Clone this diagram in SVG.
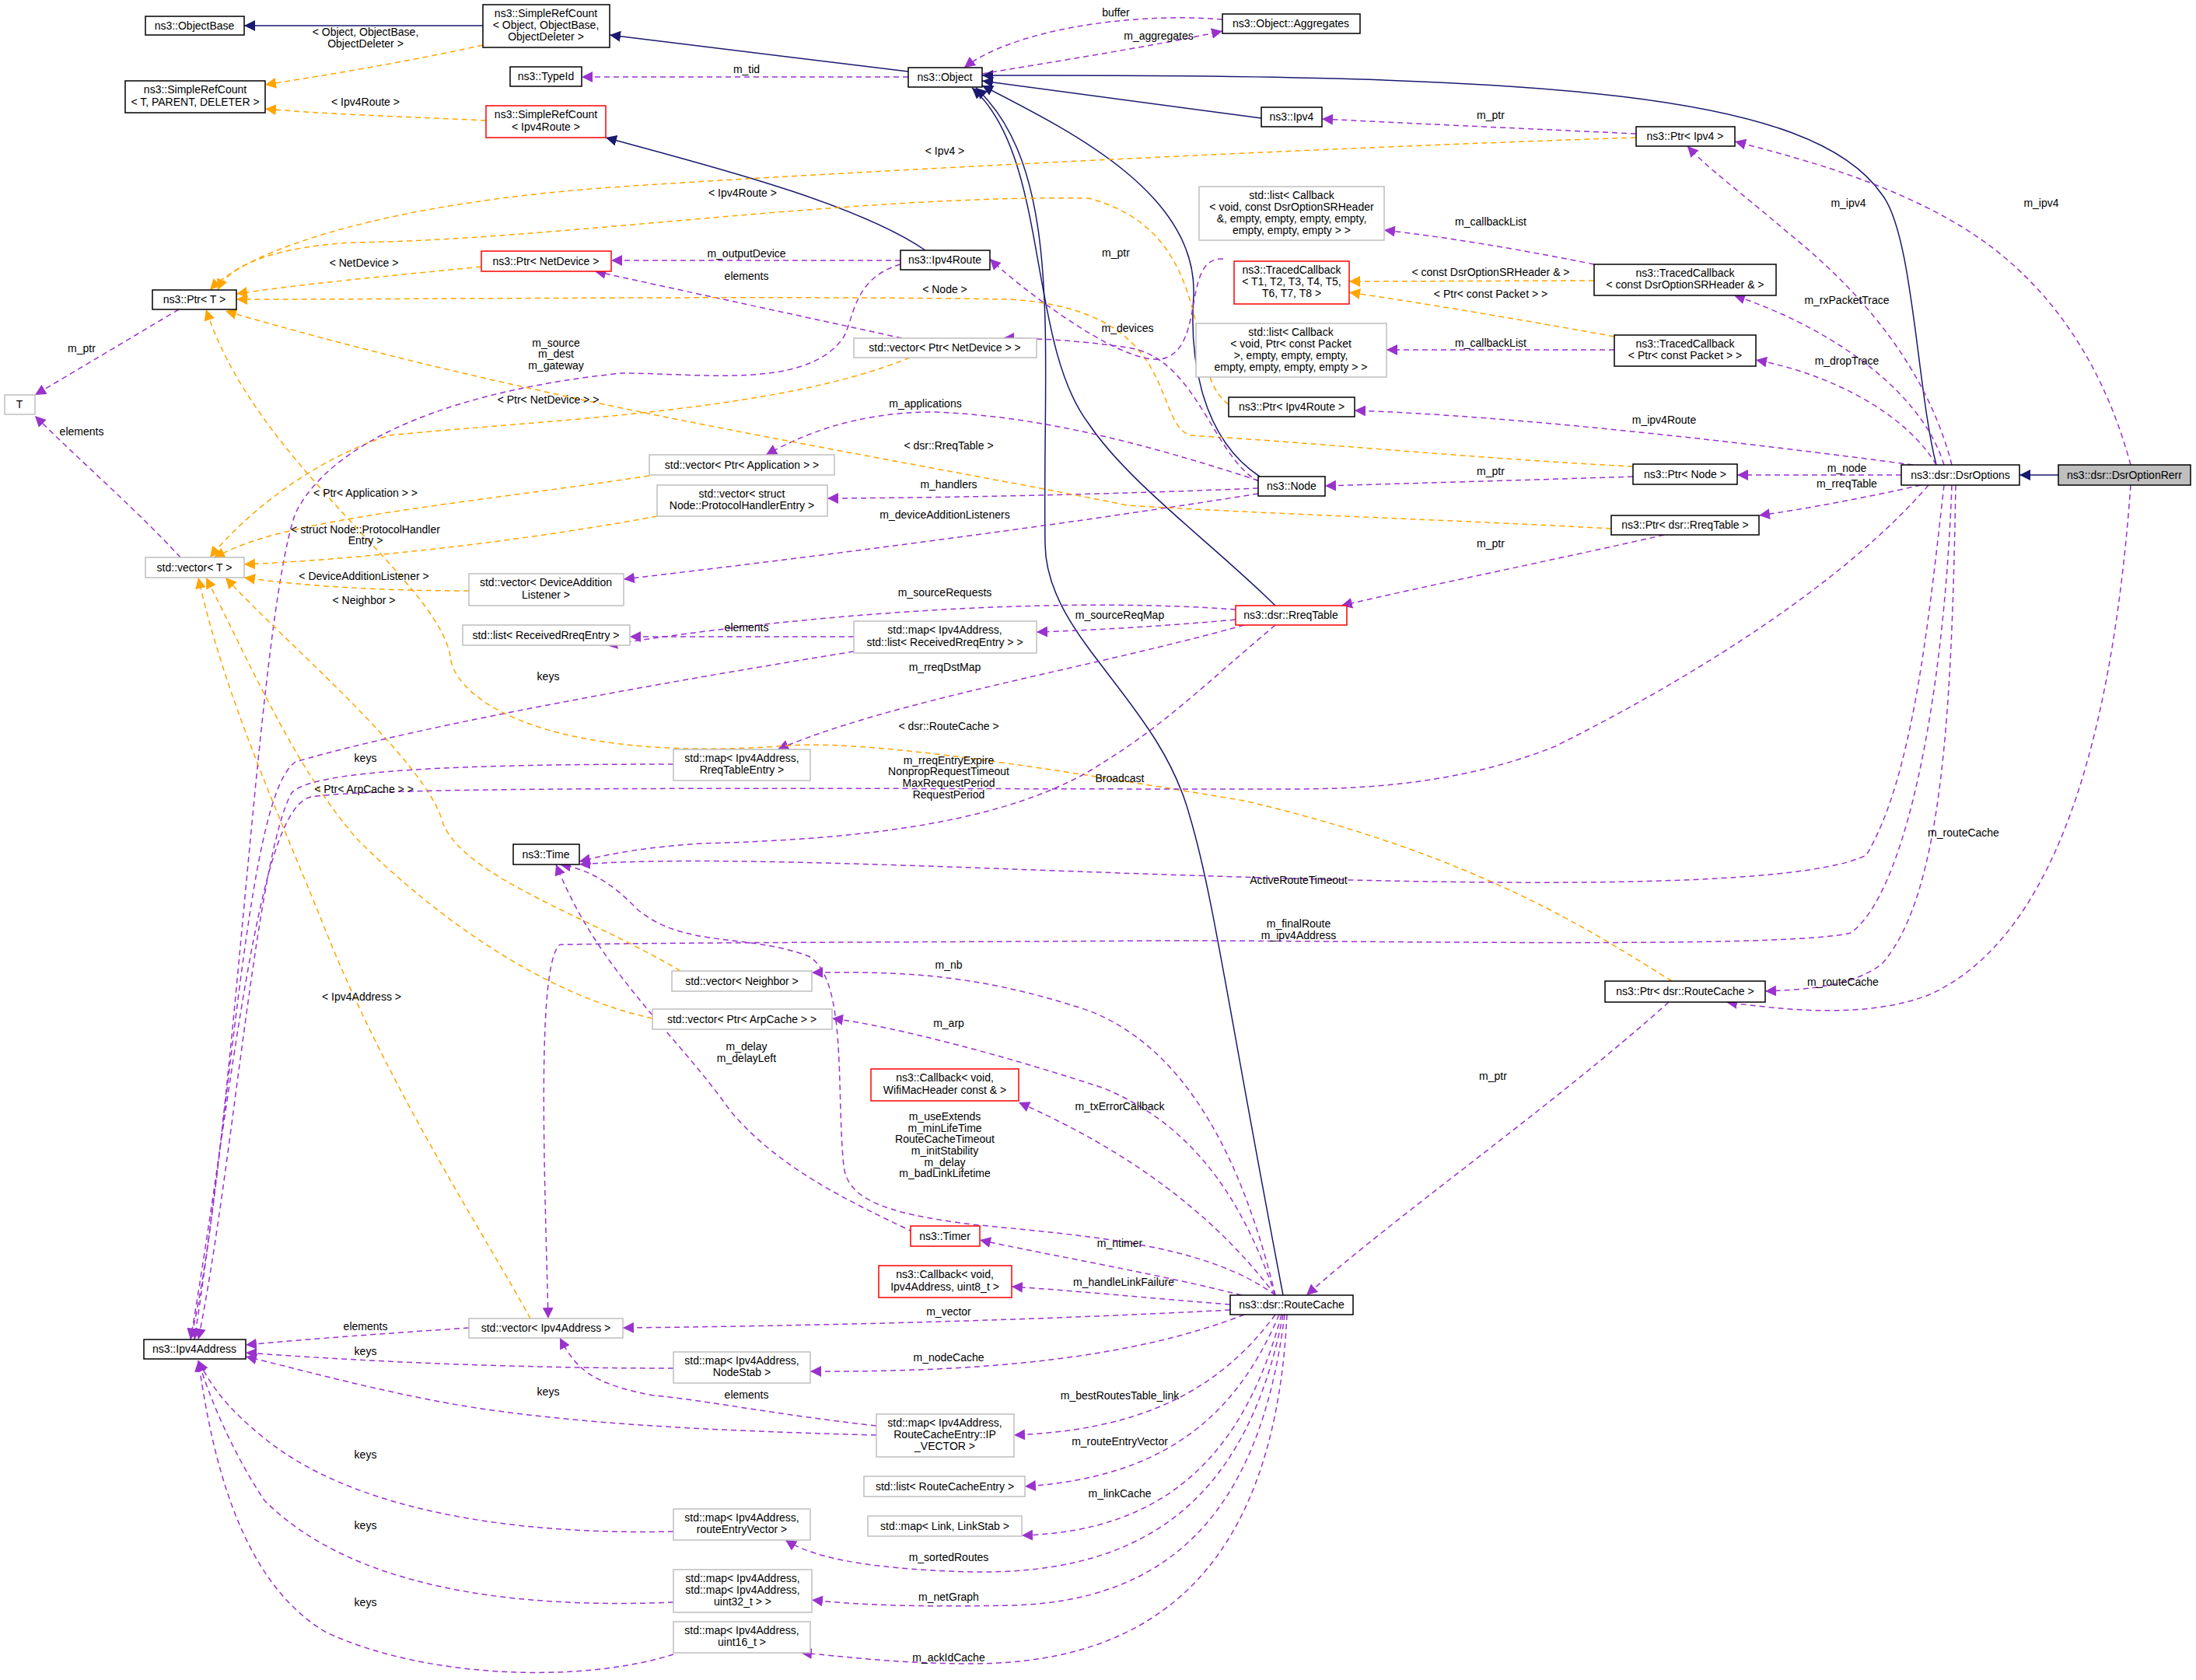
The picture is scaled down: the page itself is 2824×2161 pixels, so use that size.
<svg xmlns="http://www.w3.org/2000/svg" width="2824" height="2161" viewBox="0 0 2824 2161">
<style>
text{font-family:"Liberation Sans",Arial,sans-serif;font-size:14px;fill:#000}
.n text,.l text{text-anchor:middle}
.n rect{fill:#fff;stroke:#000;stroke-width:1.5}
.n.r rect{stroke:#f00}
.n.g rect{stroke:#bfbfbf}
.n.cur rect{fill:#bfbfbf}
.e path{fill:none;stroke-width:1.5}
.i{stroke:#191970;marker-end:url(#ai)}
.u{stroke:#9a32cd;stroke-dasharray:7,5;marker-end:url(#au)}
.t{stroke:#ffa500;stroke-dasharray:7,5;marker-end:url(#at)}
</style>
<defs>
<marker id="ai" viewBox="0 0 10 10" refX="10" refY="5" markerWidth="14" markerHeight="14" markerUnits="userSpaceOnUse" orient="auto"><path d="M0,0L10,5L0,10z" fill="#191970"/></marker>
<marker id="au" viewBox="0 0 10 10" refX="10" refY="5" markerWidth="14" markerHeight="14" markerUnits="userSpaceOnUse" orient="auto"><path d="M0,0L10,5L0,10z" fill="#9a32cd"/></marker>
<marker id="at" viewBox="0 0 10 10" refX="10" refY="5" markerWidth="14" markerHeight="14" markerUnits="userSpaceOnUse" orient="auto"><path d="M0,0L10,5L0,10z" fill="#ffa500"/></marker>
</defs>
<rect width="2824" height="2161" fill="#fff"/>
<g id="edges" class="e">
<path class="i" d="M621,33L314,33"/>
<path class="i" d="M1168,92L784,45"/>
<path class="i" d="M1190,322C1100,260 900,210 779,177"/>
<path class="i" d="M1622,152L1263,104"/>
<path class="i" d="M2490,598C2465,500 2460,300 2420,250C2330,120 2000,95 1263,97"/>
<path class="i" d="M1620,613C1540,560 1530,450 1535,380C1540,250 1380,170 1263,110"/>
<path class="i" d="M1640,779C1560,700 1450,620 1400,545C1320,440 1350,200 1250,113"/>
<path class="i" d="M1650,1666C1580,1300 1560,1150 1530,1050C1490,900 1345,820 1344,700C1340,450 1370,220 1255,113"/>
<path class="i" d="M2647,611L2597,611"/>
<path class="u" d="M1263,95C1350,80 1480,60 1572,40"/>
<path class="u" d="M1572,25C1450,15 1300,40 1240,87"/>
<path class="u" d="M1168,99L748,99"/>
<path class="t" d="M621,58C520,80 430,95 341,109"/>
<path class="t" d="M625,155C520,150 420,147 341,140"/>
<path class="u" d="M2104,172C1950,165 1800,158 1700,153"/>
<path class="t" d="M2104,177C1700,190 1100,220 800,240C500,260 320,320 270,373"/>
<path class="t" d="M1580,520C1520,480 1570,300 1400,255C1100,250 700,310 450,312C330,320 290,350 280,373"/>
<path class="t" d="M619,343C500,355 390,365 304,378"/>
<path class="u" d="M1158,335L786,335"/>
<path class="u" d="M1160,435C1000,400 860,370 765,349"/>
<path class="t" d="M2100,600C1900,590 1700,570 1530,560C1480,540 1520,400 1300,385C1000,380 600,385 304,385"/>
<path class="t" d="M1170,460C1000,530 700,540 500,560C380,600 300,680 270,717"/>
<path class="u" d="M1158,340C1090,360 1100,420 1080,440C1030,500 900,480 800,480C600,500 430,560 380,660C330,800 300,1500 245,1723"/>
<path class="u" d="M230,398L45,508"/>
<path class="u" d="M232,717C180,660 100,590 45,535"/>
<path class="u" d="M1620,620C1560,590 1540,460 1450,447C1400,440 1350,435 1290,435"/>
<path class="u" d="M1573,333C1520,330 1550,440 1500,460C1450,480 1300,360 1273,333"/>
<path class="u" d="M1618,618C1500,580 1350,535 1200,530C1100,530 1030,560 985,585"/>
<path class="u" d="M1618,628C1450,635 1250,640 1064,641"/>
<path class="u" d="M1618,635C1400,670 1100,710 802,745"/>
<path class="t" d="M2072,680C1900,670 1600,660 1450,650C1100,580 700,520 290,400"/>
<path class="t" d="M835,612C650,640 450,660 345,690C310,700 290,710 275,717"/>
<path class="t" d="M845,664C650,700 450,720 314,726"/>
<path class="t" d="M603,760C500,760 400,755 314,743"/>
<path class="t" d="M875,1249C760,1180 600,1130 570,1060C550,980 370,830 290,743"/>
<path class="t" d="M839,1310C700,1280 560,1180 460,1080C380,990 320,850 265,743"/>
<path class="t" d="M682,1696C630,1600 500,1400 420,1200C360,1050 290,900 255,743"/>
<path class="u" d="M1589,784C1400,770 1100,780 780,830"/>
<path class="u" d="M1589,797C1500,805 1420,810 1333,813"/>
<path class="u" d="M1098,819L810,819"/>
<path class="u" d="M1098,838C900,870 550,930 380,980C320,1020 300,1400 250,1723"/>
<path class="u" d="M1600,804C1400,860 1150,900 1000,964"/>
<path class="u" d="M866,983C600,983 400,990 375,1020C330,1100 300,1500 255,1723"/>
<path class="t" d="M2150,1262C2050,1200 1900,1100 1600,1030C1300,980 1100,950 1000,960C700,980 590,900 580,850C570,750 330,600 265,398"/>
<path class="u" d="M2480,624C2380,740 2200,860 2000,960C1850,1020 1700,1015 1600,1015C1100,1015 500,1010 400,1025C330,1040 300,1400 245,1723"/>
<path class="u" d="M1640,804C1550,880 1500,930 1420,980C1300,1060 1100,1080 900,1085C800,1092 760,1105 745,1108"/>
<path class="u" d="M2500,624C2480,800 2460,1000 2400,1100C2300,1150 1800,1135 1500,1125C1200,1115 900,1100 745,1112"/>
<path class="u" d="M2510,624C2500,900 2450,1150 2380,1200C2300,1220 1800,1210 1500,1210C1200,1212 900,1212 720,1215C690,1240 700,1500 705,1696"/>
<path class="u" d="M2515,624C2510,900 2500,1150 2420,1240C2380,1270 2320,1273 2270,1275"/>
<path class="u" d="M2740,624C2720,900 2660,1200 2480,1280C2400,1310 2300,1300 2220,1289"/>
<path class="u" d="M2740,598C2700,450 2620,350 2520,290C2420,230 2300,200 2231,182"/>
<path class="u" d="M2510,598C2480,480 2400,380 2300,300C2230,240 2200,220 2170,188"/>
<path class="u" d="M2500,598C2470,500 2350,420 2230,380"/>
<path class="u" d="M2490,598C2450,530 2350,480 2258,463"/>
<path class="u" d="M2460,598C2250,570 1950,535 1742,528"/>
<path class="u" d="M2445,611L2234,611"/>
<path class="u" d="M2470,624C2400,640 2320,655 2262,663"/>
<path class="u" d="M2100,613C1950,618 1800,622 1704,625"/>
<path class="u" d="M2140,688C2000,720 1850,750 1725,779"/>
<path class="u" d="M2050,340C1950,320 1860,305 1780,296"/>
<path class="t" d="M2050,361L1735,362"/>
<path class="t" d="M2076,433C1950,410 1830,390 1735,376"/>
<path class="u" d="M2076,450L1783,450"/>
<path class="u" d="M2146,1289C2000,1420 1800,1560 1680,1666"/>
<path class="u" d="M1640,1666C1550,1600 1400,1590 1250,1575C1130,1560 1090,1540 1085,1500C1075,1400 1090,1260 1040,1230C960,1200 880,1220 820,1170C800,1150 770,1120 720,1112"/>
<path class="u" d="M1175,1585C1080,1540 1000,1500 940,1430C870,1330 770,1250 715,1112"/>
<path class="u" d="M1640,1666C1600,1500 1530,1350 1400,1300C1250,1250 1150,1250 1044,1251"/>
<path class="u" d="M1640,1666C1600,1550 1540,1450 1420,1400C1300,1360 1150,1320 1070,1310"/>
<path class="u" d="M1640,1666C1560,1560 1450,1480 1310,1418"/>
<path class="u" d="M1620,1672C1500,1640 1350,1615 1260,1595"/>
<path class="u" d="M1582,1678C1480,1670 1380,1660 1301,1655"/>
<path class="u" d="M1582,1685C1300,1700 1000,1706 801,1708"/>
<path class="u" d="M603,1708C500,1715 400,1722 316,1730"/>
<path class="u" d="M1600,1691C1450,1750 1250,1765 1042,1764"/>
<path class="u" d="M866,1760C650,1760 450,1750 316,1740"/>
<path class="u" d="M1640,1691C1560,1800 1450,1840 1304,1846"/>
<path class="u" d="M1127,1846C900,1840 700,1830 550,1800C450,1780 380,1760 316,1745"/>
<path class="u" d="M1127,1834C1000,1820 900,1800 840,1795C760,1780 740,1760 720,1721"/>
<path class="u" d="M1645,1691C1590,1820 1500,1900 1318,1912"/>
<path class="u" d="M1648,1691C1600,1870 1500,1970 1314,1975"/>
<path class="u" d="M1650,1691C1600,1950 1450,2025 1250,2022C1100,2018 1040,2000 1010,1981"/>
<path class="u" d="M1652,1691C1620,1950 1500,2060 1300,2065C1150,2068 1080,2062 1044,2058"/>
<path class="u" d="M1655,1691C1640,2000 1500,2140 1250,2140C1150,2140 1080,2130 1030,2126"/>
<path class="u" d="M866,1970C650,1975 450,1940 340,1850C290,1810 270,1780 255,1750"/>
<path class="u" d="M866,2061C650,2070 450,2040 340,1930C300,1870 270,1800 255,1750"/>
<path class="u" d="M866,2128C750,2165 550,2160 420,2100C300,2030 270,1850 255,1750"/>
</g>
<g class="l">
<text x="470" y="46">&lt; Object, ObjectBase,</text><text x="470" y="61">ObjectDeleter &gt;</text>
<text x="470" y="136">&lt; Ipv4Route &gt;</text>
<text x="960" y="94">m_tid</text>
<text x="1435" y="21">buffer</text>
<text x="1490" y="51">m_aggregates</text>
<text x="1917" y="153">m_ptr</text>
<text x="1215" y="199">&lt; Ipv4 &gt;</text>
<text x="955" y="253">&lt; Ipv4Route &gt;</text>
<text x="468" y="343">&lt; NetDevice &gt;</text>
<text x="960" y="331">m_outputDevice</text>
<text x="960" y="360">elements</text>
<text x="1215" y="377">&lt; Node &gt;</text>
<text x="1435" y="330">m_ptr</text>
<text x="1450" y="427">m_devices</text>
<text x="715" y="446">m_source</text><text x="715" y="460">m_dest</text><text x="715" y="475">m_gateway</text>
<text x="105" y="453">m_ptr</text>
<text x="105" y="560">elements</text>
<text x="705" y="519">&lt; Ptr&lt; NetDevice &gt; &gt;</text>
<text x="1190" y="524">m_applications</text>
<text x="1220" y="578">&lt; dsr::RreqTable &gt;</text>
<text x="1220" y="628">m_handlers</text>
<text x="470" y="639">&lt; Ptr&lt; Application &gt; &gt;</text>
<text x="1215" y="667">m_deviceAdditionListeners</text>
<text x="470" y="686">&lt; struct Node::ProtocolHandler</text><text x="470" y="700">Entry &gt;</text>
<text x="468" y="746">&lt; DeviceAdditionListener &gt;</text>
<text x="468" y="777">&lt; Neighbor &gt;</text>
<text x="1215" y="767">m_sourceRequests</text>
<text x="1440" y="796">m_sourceReqMap</text>
<text x="960" y="812">elements</text>
<text x="705" y="875">keys</text>
<text x="1215" y="863">m_rreqDstMap</text>
<text x="1220" y="939">&lt; dsr::RouteCache &gt;</text>
<text x="470" y="980">keys</text>
<text x="1220" y="983">m_rreqEntryExpire</text><text x="1220" y="997">NonpropRequestTimeout</text><text x="1220" y="1012">MaxRequestPeriod</text><text x="1220" y="1027">RequestPeriod</text>
<text x="1440" y="1006">Broadcast</text>
<text x="468" y="1020">&lt; Ptr&lt; ArpCache &gt; &gt;</text>
<text x="1670" y="1137">ActiveRouteTimeout</text>
<text x="1670" y="1193">m_finalRoute</text><text x="1670" y="1208">m_ipv4Address</text>
<text x="2525" y="1076">m_routeCache</text>
<text x="2370" y="1268">m_routeCache</text>
<text x="465" y="1287">&lt; Ipv4Address &gt;</text>
<text x="1220" y="1246">m_nb</text>
<text x="1220" y="1321">m_arp</text>
<text x="960" y="1351">m_delay</text><text x="960" y="1366">m_delayLeft</text>
<text x="1920" y="1389">m_ptr</text>
<text x="1440" y="1428">m_txErrorCallback</text>
<text x="1215" y="1441">m_useExtends</text><text x="1215" y="1456">m_minLifeTime</text><text x="1215" y="1470">RouteCacheTimeout</text><text x="1215" y="1485">m_initStability</text><text x="1215" y="1500">m_delay</text><text x="1215" y="1514">m_badLinkLifetime</text>
<text x="1440" y="1604">m_ntimer</text>
<text x="1445" y="1654">m_handleLinkFailure</text>
<text x="1220" y="1692">m_vector</text>
<text x="470" y="1711">elements</text>
<text x="470" y="1743">keys</text>
<text x="1220" y="1751">m_nodeCache</text>
<text x="705" y="1795">keys</text>
<text x="960" y="1799">elements</text>
<text x="1440" y="1800">m_bestRoutesTable_link</text>
<text x="1440" y="1859">m_routeEntryVector</text>
<text x="470" y="1876">keys</text>
<text x="1440" y="1926">m_linkCache</text>
<text x="470" y="1967">keys</text>
<text x="1220" y="2008">m_sortedRoutes</text>
<text x="1220" y="2059">m_netGraph</text>
<text x="470" y="2066">keys</text>
<text x="1220" y="2137">m_ackIdCache</text>
<text x="1917" y="290">m_callbackList</text>
<text x="1917" y="355">&lt; const DsrOptionSRHeader &amp; &gt;</text>
<text x="1917" y="383">&lt; Ptr&lt; const Packet &gt; &gt;</text>
<text x="1917" y="446">m_callbackList</text>
<text x="1917" y="611">m_ptr</text>
<text x="1917" y="704">m_ptr</text>
<text x="2377" y="266">m_ipv4</text>
<text x="2625" y="266">m_ipv4</text>
<text x="2375" y="391">m_rxPacketTrace</text>
<text x="2375" y="469">m_dropTrace</text>
<text x="2140" y="545">m_ipv4Route</text>
<text x="2375" y="607">m_node</text>
<text x="2375" y="627">m_rreqTable</text>
</g>
<g id="n_objectbase" class="n"><rect x="187" y="21" width="127" height="24"/><text x="250" y="38">ns3::ObjectBase</text></g>
<g id="n_src_object" class="n"><rect x="621" y="6" width="163" height="55"/><text x="702" y="22">ns3::SimpleRefCount</text><text x="702" y="37">&lt; Object, ObjectBase,</text><text x="702" y="52">ObjectDeleter &gt;</text></g>
<g id="n_src_t" class="n"><rect x="161" y="104" width="180" height="41"/><text x="251" y="120">ns3::SimpleRefCount</text><text x="251" y="136">&lt; T, PARENT, DELETER &gt;</text></g>
<g id="n_typeid" class="n"><rect x="656" y="86" width="92" height="25"/><text x="702" y="103">ns3::TypeId</text></g>
<g id="n_object" class="n"><rect x="1168" y="87" width="95" height="25"/><text x="1215" y="104">ns3::Object</text></g>
<g id="n_src_ipv4route" class="n r"><rect x="625" y="136" width="154" height="41"/><text x="702" y="152">ns3::SimpleRefCount</text><text x="702" y="168">&lt; Ipv4Route &gt;</text></g>
<g id="n_aggregates" class="n"><rect x="1572" y="18" width="177" height="25"/><text x="1660" y="35">ns3::Object::Aggregates</text></g>
<g id="n_ipv4" class="n"><rect x="1622" y="138" width="78" height="25"/><text x="1661" y="155">ns3::Ipv4</text></g>
<g id="n_ptr_ipv4" class="n"><rect x="2104" y="163" width="127" height="25"/><text x="2167" y="180">ns3::Ptr&lt; Ipv4 &gt;</text></g>
<g id="n_list_cb_sr" class="n g"><rect x="1542" y="240" width="238" height="69"/><text x="1661" y="256">std::list&lt; Callback</text><text x="1661" y="271">&lt; void, const DsrOptionSRHeader</text><text x="1661" y="286">&amp;, empty, empty, empty, empty,</text><text x="1661" y="301">empty, empty, empty &gt; &gt;</text></g>
<g id="n_tc_t" class="n r"><rect x="1587" y="336" width="148" height="55"/><text x="1661" y="352">ns3::TracedCallback</text><text x="1661" y="367">&lt; T1, T2, T3, T4, T5,</text><text x="1661" y="382">T6, T7, T8 &gt;</text></g>
<g id="n_tc_sr" class="n"><rect x="2050" y="340" width="234" height="40"/><text x="2167" y="356">ns3::TracedCallback</text><text x="2167" y="371">&lt; const DsrOptionSRHeader &amp; &gt;</text></g>
<g id="n_list_cb_pkt" class="n g"><rect x="1538" y="416" width="245" height="69"/><text x="1660" y="432">std::list&lt; Callback</text><text x="1660" y="447">&lt; void, Ptr&lt; const Packet</text><text x="1660" y="462">&gt;, empty, empty, empty,</text><text x="1660" y="477">empty, empty, empty, empty &gt; &gt;</text></g>
<g id="n_tc_pkt" class="n"><rect x="2076" y="431" width="182" height="40"/><text x="2167" y="447">ns3::TracedCallback</text><text x="2167" y="462">&lt; Ptr&lt; const Packet &gt; &gt;</text></g>
<g id="n_ptr_netdevice" class="n r"><rect x="619" y="323" width="167" height="26"/><text x="702" y="341">ns3::Ptr&lt; NetDevice &gt;</text></g>
<g id="n_ipv4route" class="n"><rect x="1158" y="322" width="115" height="25"/><text x="1215" y="339">ns3::Ipv4Route</text></g>
<g id="n_ptr_t" class="n"><rect x="196" y="373" width="108" height="25"/><text x="250" y="390">ns3::Ptr&lt; T &gt;</text></g>
<g id="n_t" class="n g"><rect x="6" y="508" width="39" height="25"/><text x="25" y="525">T</text></g>
<g id="n_vec_netdevice" class="n g"><rect x="1098" y="435" width="235" height="25"/><text x="1215" y="452">std::vector&lt; Ptr&lt; NetDevice &gt; &gt;</text></g>
<g id="n_ptr_ipv4route" class="n"><rect x="1580" y="511" width="162" height="25"/><text x="1661" y="528">ns3::Ptr&lt; Ipv4Route &gt;</text></g>
<g id="n_vec_app" class="n g"><rect x="835" y="585" width="238" height="26"/><text x="954" y="603">std::vector&lt; Ptr&lt; Application &gt; &gt;</text></g>
<g id="n_vec_phe" class="n g"><rect x="845" y="624" width="219" height="40"/><text x="954" y="640">std::vector&lt; struct</text><text x="954" y="655">Node::ProtocolHandlerEntry &gt;</text></g>
<g id="n_ptr_node" class="n"><rect x="2100" y="597" width="134" height="26"/><text x="2167" y="615">ns3::Ptr&lt; Node &gt;</text></g>
<g id="n_node" class="n"><rect x="1618" y="613" width="86" height="25"/><text x="1661" y="630">ns3::Node</text></g>
<g id="n_dsroptions" class="n"><rect x="2445" y="598" width="152" height="26"/><text x="2521" y="616">ns3::dsr::DsrOptions</text></g>
<g id="n_dsroptionrerr" class="n cur"><rect x="2647" y="598" width="170" height="26"/><text x="2732" y="616">ns3::dsr::DsrOptionRerr</text></g>
<g id="n_ptr_rreqtable" class="n"><rect x="2072" y="663" width="190" height="25"/><text x="2167" y="680">ns3::Ptr&lt; dsr::RreqTable &gt;</text></g>
<g id="n_vec_t" class="n g"><rect x="187" y="717" width="127" height="26"/><text x="250" y="735">std::vector&lt; T &gt;</text></g>
<g id="n_vec_dal" class="n g"><rect x="603" y="738" width="199" height="41"/><text x="702" y="754">std::vector&lt; DeviceAddition</text><text x="702" y="770">Listener &gt;</text></g>
<g id="n_rreqtable" class="n r"><rect x="1589" y="779" width="143" height="25"/><text x="1660" y="796">ns3::dsr::RreqTable</text></g>
<g id="n_list_rre" class="n g"><rect x="595" y="804" width="215" height="26"/><text x="702" y="822">std::list&lt; ReceivedRreqEntry &gt;</text></g>
<g id="n_map_list_rre" class="n g"><rect x="1098" y="799" width="235" height="41"/><text x="1215" y="815">std::map&lt; Ipv4Address,</text><text x="1215" y="831">std::list&lt; ReceivedRreqEntry &gt; &gt;</text></g>
<g id="n_map_rte" class="n g"><rect x="866" y="964" width="176" height="40"/><text x="954" y="980">std::map&lt; Ipv4Address,</text><text x="954" y="995">RreqTableEntry &gt;</text></g>
<g id="n_time" class="n"><rect x="660" y="1086" width="85" height="26"/><text x="702" y="1104">ns3::Time</text></g>
<g id="n_vec_neighbor" class="n g"><rect x="864" y="1249" width="180" height="26"/><text x="954" y="1267">std::vector&lt; Neighbor &gt;</text></g>
<g id="n_ptr_routecache" class="n"><rect x="2064" y="1262" width="206" height="27"/><text x="2167" y="1280">ns3::Ptr&lt; dsr::RouteCache &gt;</text></g>
<g id="n_vec_arp" class="n g"><rect x="839" y="1298" width="231" height="26"/><text x="954" y="1316">std::vector&lt; Ptr&lt; ArpCache &gt; &gt;</text></g>
<g id="n_cb_wifi" class="n r"><rect x="1120" y="1375" width="190" height="41"/><text x="1215" y="1391">ns3::Callback&lt; void,</text><text x="1215" y="1407">WifiMacHeader const &amp; &gt;</text></g>
<g id="n_timer" class="n r"><rect x="1171" y="1577" width="89" height="26"/><text x="1215" y="1595">ns3::Timer</text></g>
<g id="n_cb_u8" class="n r"><rect x="1130" y="1628" width="171" height="41"/><text x="1215" y="1644">ns3::Callback&lt; void,</text><text x="1215" y="1660">Ipv4Address, uint8_t &gt;</text></g>
<g id="n_routecache" class="n"><rect x="1582" y="1666" width="158" height="25"/><text x="1661" y="1683">ns3::dsr::RouteCache</text></g>
<g id="n_vec_ipv4" class="n g"><rect x="603" y="1696" width="198" height="25"/><text x="702" y="1713">std::vector&lt; Ipv4Address &gt;</text></g>
<g id="n_ipv4address" class="n"><rect x="185" y="1723" width="131" height="25"/><text x="250" y="1740">ns3::Ipv4Address</text></g>
<g id="n_map_nodestab" class="n g"><rect x="866" y="1739" width="176" height="40"/><text x="954" y="1755">std::map&lt; Ipv4Address,</text><text x="954" y="1770">NodeStab &gt;</text></g>
<g id="n_map_ipvector" class="n g"><rect x="1127" y="1819" width="177" height="55"/><text x="1215" y="1835">std::map&lt; Ipv4Address,</text><text x="1215" y="1850">RouteCacheEntry::IP</text><text x="1215" y="1865">_VECTOR &gt;</text></g>
<g id="n_list_rce" class="n g"><rect x="1111" y="1899" width="207" height="26"/><text x="1215" y="1917">std::list&lt; RouteCacheEntry &gt;</text></g>
<g id="n_map_link" class="n g"><rect x="1116" y="1950" width="198" height="26"/><text x="1215" y="1968">std::map&lt; Link, LinkStab &gt;</text></g>
<g id="n_map_rev" class="n g"><rect x="866" y="1941" width="176" height="40"/><text x="954" y="1957">std::map&lt; Ipv4Address,</text><text x="954" y="1972">routeEntryVector &gt;</text></g>
<g id="n_map_u32" class="n g"><rect x="866" y="2019" width="178" height="55"/><text x="955" y="2035">std::map&lt; Ipv4Address,</text><text x="955" y="2050">std::map&lt; Ipv4Address,</text><text x="955" y="2065">uint32_t &gt; &gt;</text></g>
<g id="n_map_u16" class="n g"><rect x="866" y="2086" width="176" height="40"/><text x="954" y="2102">std::map&lt; Ipv4Address,</text><text x="954" y="2117">uint16_t &gt;</text></g>
</svg>
